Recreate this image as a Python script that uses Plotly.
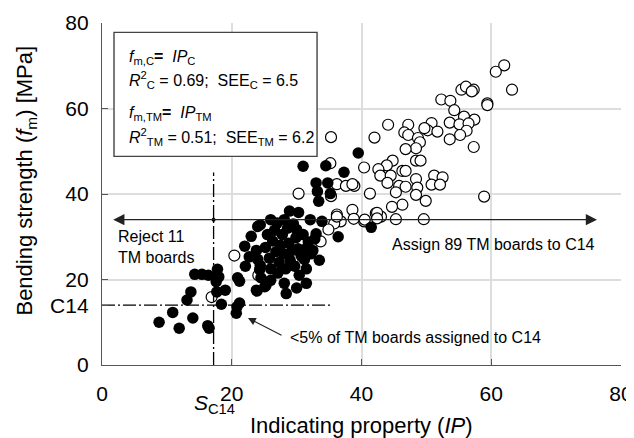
import plotly.graph_objects as go

# ---- data ----
tm_ip = [8.8, 10.9, 11.9, 14.0, 16.3, 16.5, 13.1, 13.7, 14.3, 15.4, 16.4,
         17.8, 18.0, 17.6, 17.7, 19.0, 18.4, 20.8, 21.2, 20.7, 21.2, 22.1, 23.9, 25.1, 24.4, 20.9,
         31.0, 34.5, 37.3, 33.0, 34.8, 33.2, 35.2, 33.4, 28.9, 30.3, 28.1, 26.0, 32.1, 33.9, 24.4, 30.0, 36.4, 39.5, 41.5,
         22.0, 22.7, 23.0, 23.8, 24.0, 24.0, 24.3, 24.5, 23.8, 25.3, 25.5, 25.2, 25.8, 26.0, 26.3, 26.6, 26.8, 27.1,
         27.3, 27.5, 27.8, 28.0, 28.1, 28.4, 28.3, 28.6, 28.8, 29.0, 29.3, 29.7, 29.9, 30.2, 30.4, 30.7, 31.0, 31.2,
         31.2, 31.5, 31.5, 31.8, 32.2, 32.5, 33.0, 33.5, 32.8, 27.0, 29.5, 26.0, 30.0]
tm_fm = [10.0, 12.3, 8.6, 11.0, 9.2, 8.6, 15.2, 17.1, 21.2, 21.2, 21.0,
         22.4, 20.6, 19.5, 17.1, 17.5, 14.2, 13.6, 14.5, 12.1, 19.6, 23.1, 17.3, 18.3, 23.3, 20.4,
         46.5, 46.6, 45.1, 42.6, 42.6, 40.6, 40.1, 38.3, 36.0, 35.7, 34.0, 34.0, 34.0, 33.6, 32.8, 31.7, 30.0, 49.6, 32.2,
         27.8, 25.3, 30.1, 26.8, 32.4, 24.7, 22.3, 20.4, 17.5, 18.7, 30.5, 27.5, 25.0, 22.5, 29.0, 31.5, 26.5, 21.5,
         24.0, 28.0, 30.5, 26.0, 19.1, 16.7, 22.5, 32.0, 28.5, 24.5, 26.8, 23.1, 29.8, 27.2, 21.0, 25.6, 30.5, 27.0,
         24.7, 19.1, 22.5, 28.8, 26.0, 26.8, 30.7, 24.5, 29.5, 33.2, 33.0, 19.8, 18.0]

c_ip = [62.0, 60.7, 63.2, 55.4, 56.1, 57.3, 57.0, 52.3, 53.7, 54.3, 59.4, 59.4, 55.8, 57.4, 53.6, 55.1, 56.5,
        56.2, 55.2, 53.6, 57.3, 50.8, 50.2, 51.7, 49.7, 47.2, 46.6, 47.2, 48.7, 49.0, 48.4, 46.8, 44.1, 42.0,
        48.4, 49.1, 44.8, 43.9, 42.6, 42.9, 44.5, 46.3, 46.8, 48.4, 44.0, 45.8, 46.8, 48.6, 45.3, 48.4, 51.2,
        52.5, 50.8, 52.1, 49.9, 46.3, 44.7, 58.9, 41.3, 40.4, 38.9, 42.2, 43.0, 45.3, 49.6, 40.4,
        35.2, 36.2, 37.6, 38.6, 30.3, 35.3, 38.6, 36.2, 38.8, 40.5, 36.8, 35.8, 34.9, 29.1, 33.7, 20.4, 29.4,
        35.3, 42.4, 42.4, 36.2, 16.9, 24.1]
c_fm = [70.1, 68.6, 64.4, 64.4, 65.1, 64.4, 64.0, 62.1, 61.8, 59.6, 61.2, 60.8, 58.1, 57.4, 56.7, 56.3, 56.5,
        54.8, 53.8, 52.8, 51.0, 56.6, 54.9, 54.6, 55.4, 56.2, 54.4, 53.8, 53.1, 52.1, 50.7, 50.5, 56.2, 53.2,
        47.8, 47.8, 47.8, 46.7, 45.8, 44.3, 44.3, 45.4, 45.4, 43.5, 42.6, 41.9, 41.7, 41.5, 40.4, 39.8, 44.3,
        43.9, 42.2, 42.2, 38.4, 37.5, 37.0, 39.4, 40.1, 46.2, 41.9, 35.5, 34.7, 34.1, 34.1, 33.6,
        47.2, 42.3, 41.9, 42.3, 40.1, 39.5, 36.3, 35.2, 34.2, 34.0, 33.6, 33.1, 31.7, 32.6, 28.9, 25.6, 24.7,
        53.3, 35.6, 34.3, 34.7, 15.9, 21.0]

x_ticks = [0, 20, 40, 60, 80]
y_ticks = [0, 14, 20, 40, 60, 80]
y_ticktext = ["0", "C14", "20", "40", "60", "80"]
grid_vals = [20, 40, 60, 80]

S_C14 = 17.2
C14 = 14
ARROW_Y = 34
ARROW_X = [1.5, 76.3]

FONT = "Liberation Sans, Arial, sans-serif"
AX_COLOR = "#555555"
DASHDOT = "13px,3px,2px,3px"

fig = go.Figure()
fig.add_trace(go.Scatter(x=c_ip, y=c_fm, mode="markers",
                         marker=dict(size=11, color="white", line=dict(color="black", width=1.2)),
                         showlegend=False, cliponaxis=False))
fig.add_trace(go.Scatter(x=tm_ip, y=tm_fm, mode="markers",
                         marker=dict(size=11.5, color="black", line=dict(color="black", width=0)),
                         showlegend=False, cliponaxis=False))

# dash-dot reference lines
fig.add_trace(go.Scatter(x=[S_C14, S_C14], y=[0, 45], mode="lines",
                         line=dict(color="black", width=1.3, dash=DASHDOT),
                         showlegend=False, hoverinfo="skip"))
fig.add_trace(go.Scatter(x=[0, 35.2], y=[C14, C14], mode="lines",
                         line=dict(color="black", width=1.3, dash=DASHDOT),
                         showlegend=False, hoverinfo="skip"))
# dot at intersection
fig.add_trace(go.Scatter(x=[S_C14], y=[ARROW_Y], mode="markers",
                         marker=dict(size=4, color="black"), showlegend=False, hoverinfo="skip"))

anns = []
# double-headed horizontal arrow
anns.append(dict(x=ARROW_X[1], y=ARROW_Y, ax=ARROW_X[0], ay=ARROW_Y, xref="x", yref="y",
                 axref="x", ayref="y", text="", showarrow=True, arrowhead=2, startarrowhead=2,
                 arrowside="end+start", arrowsize=1.6, startarrowsize=1.6, arrowwidth=1.4,
                 arrowcolor="#222222"))
# small arrow to low points
anns.append(dict(x=22.5, y=11.0, ax=27.9, ay=6.8, xref="x", yref="y", axref="x", ayref="y",
                 text="", showarrow=True, arrowhead=2, arrowsize=1.3, arrowwidth=1.2,
                 arrowcolor="#222222", standoff=0))

txt_font = dict(family=FONT, size=16, color="black")
anns.append(dict(x=2.2, y=27.5, xref="x", yref="y", text="Reject 11<br>TM boards",
                 showarrow=False, xanchor="left", yanchor="middle", align="left", font=txt_font))
anns.append(dict(x=76.3, y=28.3, xref="x", yref="y", text="Assign 89 TM boards to C14",
                 showarrow=False, xanchor="right", yanchor="middle", font=txt_font))
anns.append(dict(x=28.6, y=6.4, xref="x", yref="y", text="<5% of TM boards assigned to C14",
                 showarrow=False, xanchor="left", yanchor="middle", font=txt_font))

# equation box text
box_font = dict(family=FONT, size=16, color="black")
box_lines = [
    ("<i>f</i><sub>m,C</sub><b>=</b>  <i>IP</i><sub>C</sub>", 72.0),
    ("<i>R</i><sup>2</sup><sub>C</sub> = 0.69;  SEE<sub>C</sub> = 6.5", 66.6),
    ("<i>f</i><sub>m,TM</sub><b>=</b>  <i>IP</i><sub>TM</sub>", 58.8),
    ("<i>R</i><sup>2</sup><sub>TM</sub> = 0.51;  SEE<sub>TM</sub> = 6.2", 53.4),
]
for t, yv in box_lines:
    anns.append(dict(x=3.9, y=yv, xref="x", yref="y", text=t, showarrow=False,
                     xanchor="left", yanchor="middle", font=box_font))

# S_C14 label below the x axis
anns.append(dict(x=S_C14 - 3.3, y=-0.115, xref="x", yref="paper", text="<i>S</i><sub>C14</sub>",
                 showarrow=False, xanchor="left", yanchor="middle",
                 font=dict(family=FONT, size=21, color="black")))
# axis titles
anns.append(dict(x=0.5, y=-0.176, xref="paper", yref="paper", text="Indicating property (<i>IP</i>)",
                 showarrow=False, xanchor="center", yanchor="middle",
                 font=dict(family=FONT, size=22, color="black")))
anns.append(dict(x=-0.146, y=0.54, xref="paper", yref="paper", textangle=-90,
                 text="Bending strength (<i>f</i><sub>m</sub>) [MPa]",
                 showarrow=False, xanchor="center", yanchor="middle",
                 font=dict(family=FONT, size=22, color="black")))

shapes = [dict(type="rect", xref="x", yref="y", x0=1.85, x1=33.15, y0=48.8, y1=77.8,
               line=dict(color="#444444", width=1.4), fillcolor="white", layer="between")]

# page body has an 8px margin: figure is sized/offset so the plot lands where the reference has it
fig.update_layout(
    width=626, height=430,
    margin=dict(l=94, r=13, t=14.5, b=73, autoexpand=False),
    paper_bgcolor="white", plot_bgcolor="white",
    font=dict(family=FONT, size=21, color="black"),
    annotations=anns, shapes=shapes,
    xaxis=dict(range=[0, 80], tickvals=x_ticks, showgrid=False, zeroline=False, automargin=False,
               showline=True, linecolor=AX_COLOR, linewidth=1.3,
               ticks="inside", ticklen=6, tickcolor=AX_COLOR, tickwidth=1.3,
               tickfont=dict(family=FONT, size=21, color="black"), ticklabelstandoff=10,
               minor=dict(tickvals=grid_vals, showgrid=True, gridcolor="#dddddd", gridwidth=1.5, ticks="")),
    yaxis=dict(range=[0, 80], tickvals=y_ticks, ticktext=y_ticktext, showgrid=False, zeroline=False,
               automargin=False,
               showline=True, linecolor=AX_COLOR, linewidth=1.3,
               ticks="inside", ticklen=6, tickcolor=AX_COLOR, tickwidth=1.3,
               tickfont=dict(family=FONT, size=21, color="black"), ticklabelstandoff=8,
               minor=dict(tickvals=grid_vals, showgrid=True, gridcolor="#dddddd", gridwidth=1.5, ticks="")),
)

fig.write_html("out.html")
